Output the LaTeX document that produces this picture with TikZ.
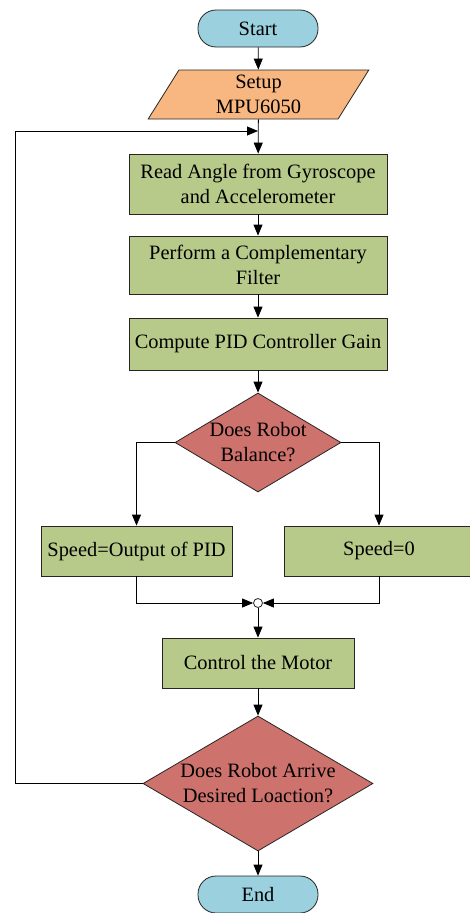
\documentclass[tikz,border=0pt]{standalone}
\usepackage{fontspec}
\setmainfont{Liberation Serif}
\usetikzlibrary{arrows.meta,shapes.geometric}
\definecolor{termblue}{HTML}{9BD0DF}
\definecolor{ioorange}{HTML}{F8B680}
\definecolor{procgreen}{HTML}{B7CA89}
\definecolor{decred}{HTML}{CD726C}
\begin{document}
\begin{tikzpicture}[x=1pt,y=-1pt,
    every node/.style={font=\fontsize{20.4}{25}\selectfont,align=center,draw=black!85,line width=0.8pt},
    term/.style={rectangle,rounded corners=18pt,fill=termblue,minimum width=120pt,minimum height=37pt},
    io/.style={trapezium,trapezium left angle=67,trapezium right angle=113,trapezium stretches=true,fill=ioorange,minimum width=221pt,minimum height=49pt,inner sep=0pt},
    proc/.style={rectangle,fill=procgreen,inner sep=2pt},
    dec/.style={diamond,fill=decred,inner sep=0pt},
    flow/.style={-{Triangle[length=11pt,width=9pt]},line width=0.8pt}]
        \useasboundingbox (0,0) rectangle (470,913);
        \node[term] (start) at (258,28.5) {Start};
        \node[io] (setup) at (258.5,94.5) {Setup\\MPU6050};
        \node[proc,minimum width=258pt,minimum height=60pt] (read) at (258,184) {Read Angle from Gyroscope\\and Accelerometer};
        \node[proc,minimum width=258pt,minimum height=58pt] (filter) at (258,265) {Perform a Complementary\\Filter};
        \node[proc,minimum width=258pt,minimum height=52pt] (pid) at (258,344) {Compute PID Controller Gain};
        \node[dec,aspect=1.65,minimum width=166pt,minimum height=99pt] (bal) at (258,442.5) {Does Robot\\Balance?};
        \node[proc,minimum width=191pt,minimum height=50pt] (out) at (136.5,551) {Speed=Output of PID};
        \node[proc,minimum width=190pt,minimum height=50pt] (zero) at (379,551) {Speed=0};
        \node[circle,fill=white,minimum size=9pt,inner sep=0pt] (junc) at (258,603) {};
        \node[proc,minimum width=192pt,minimum height=50pt] (motor) at (258,663) {Control the Motor};
        \node[dec,aspect=1.63,minimum width=230pt,minimum height=135pt] (arrive) at (258,783.5) {Does Robot Arrive\\Desired Loaction?};
        \node[term] (end) at (258,894.5) {End};
        \coordinate (back) at (15,131);
        \coordinate (merge) at (258,131);
        \draw [flow] (start) -- (setup);
        \draw [flow] (setup) -- (read);
        \draw [flow] (arrive.west) -| (back) -- (merge);
        \draw [flow] (read) -- (filter);
        \draw [flow] (filter) -- (pid);
        \draw [flow] (pid) -- (bal);
        \draw [flow] (bal.west) -| (out.north);
        \draw [flow] (bal.east) -| (zero.north);
        \draw [flow] (out.south) |- (junc.west);
        \draw [flow] (zero.south) |- (junc.east);
        \draw [flow] (junc) -- (motor);
        \draw [flow] (motor) -- (arrive);
        \draw [flow] (arrive) -- (end);
    \end{tikzpicture}
\end{document}
